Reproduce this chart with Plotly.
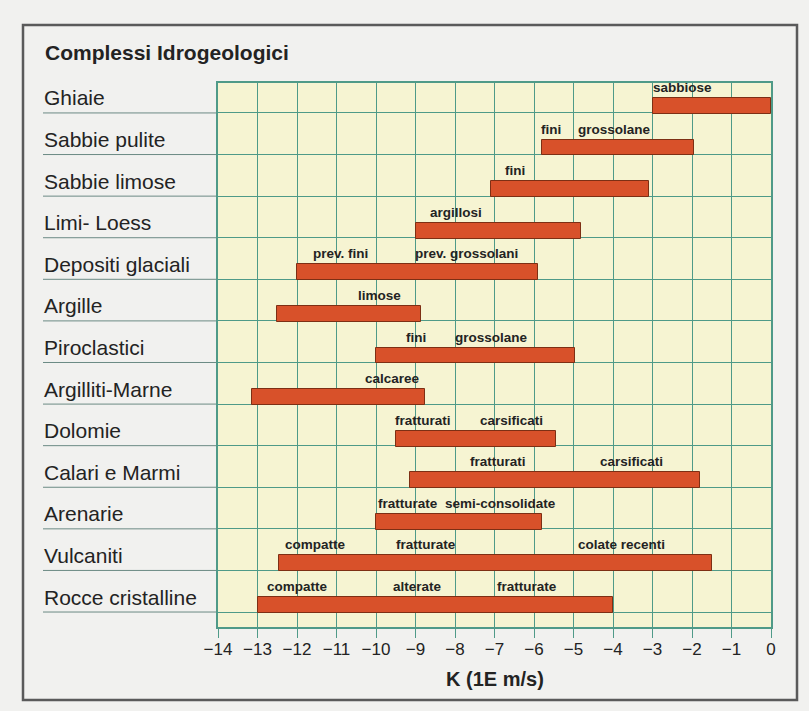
import plotly.graph_objects as go

# Hydrogeological complexes and their range of hydraulic conductivity (log10 K, m/s)
categories = ["Ghiaie", "Sabbie pulite", "Sabbie limose", "Limi- Loess",
              "Depositi glaciali", "Argille", "Piroclastici", "Argilliti-Marne",
              "Dolomie", "Calari e Marmi", "Arenarie", "Vulcaniti",
              "Rocce cristalline"]
k_min = [-3.0, -5.8, -7.1, -9.0, -12.0, -12.5, -10.0, -13.15, -9.5, -9.15,
         -10.0, -12.45, -13.0]
k_max = [0.0, -1.95, -3.1, -4.8, -5.9, -8.85, -4.95, -8.75, -5.45, -1.8,
         -5.8, -1.5, -4.0]

# Descriptive notes written above each bar
note_row = [0, 1, 1, 2, 3, 4, 4, 5, 6, 6, 7, 8, 8, 9, 9, 10, 10,
            11, 11, 11, 12, 12, 12]
note_k = [-2.25, -5.57, -3.95, -6.48, -7.98, -10.91, -7.72, -9.9, -9.0, -7.08,
          -9.58, -8.81, -6.56, -6.9, -3.53, -9.19, -6.84,
          -11.54, -8.73, -3.78, -11.98, -8.95, -6.19]
note_text = ["sabbiose", "fini", "grossolane", "fini", "argillosi",
             "prev. fini", "prev. grossolani", "limose", "fini", "grossolane",
             "calcaree", "fratturati", "carsificati", "fratturati", "carsificati",
             "fratturate", "semi-consolidate", "compatte", "fratturate",
             "colate recenti", "compatte", "alterate", "fratturate"]

x_ticks = list(range(-14, 1))
x_tick_text = [("\u2212" + str(-v)) if v < 0 else str(v) for v in x_ticks]

FONT = "Liberation Sans, Arial, Helvetica, sans-serif"
GRID = "#4f9a88"
BAR = "#d8512a"
BAR_EDGE = "#7d2f14"
TEXT = "#232323"

W, H = 809, 711
L, R, T, B = 218, 771, 83, 627          # plot area in pixels
BAR_H = 0.38

rows = list(range(len(categories)))

fig = go.Figure()
fig.add_trace(go.Bar(
    orientation="h",
    y=[r - BAR_H / 2 + 0.02 for r in rows],
    x=[hi - lo for lo, hi in zip(k_min, k_max)],
    base=k_min,
    width=BAR_H,
    marker=dict(color=BAR, line=dict(color=BAR_EDGE, width=1)),
    hoverinfo="skip",
    showlegend=False,
))

def px_x(p):
    return (p - L) / (R - L)

def px_y(p):
    return (B - p) / (B - T)

annotations = []
# category names on the left
for r, name in zip(rows, categories):
    annotations.append(dict(
        x=px_x(42), xref="paper", xanchor="left",
        y=r - 0.36, yref="y", yanchor="middle",
        text=name, showarrow=False,
        font=dict(family=FONT, size=21, color=TEXT)))
# notes over the bars
for r, k, t in zip(note_row, note_k, note_text):
    annotations.append(dict(
        x=k, xref="x", xanchor="center",
        y=r - 0.36, yref="y", yanchor="bottom", yshift=1,
        text="<b>" + t + "</b>", showarrow=False,
        font=dict(family=FONT, size=13.5, color=TEXT)))
# heading and axis title
annotations.append(dict(
    x=px_x(43), xref="paper", xanchor="left",
    y=px_y(53), yref="paper", yanchor="middle",
    text="<b>Complessi Idrogeologici</b>", showarrow=False,
    font=dict(family=FONT, size=21, color=TEXT)))
annotations.append(dict(
    x=0.5, xref="paper", xanchor="center",
    y=px_y(679), yref="paper", yanchor="middle",
    text="<b>K (1E m/s)</b>", showarrow=False,
    font=dict(family=FONT, size=20, color=TEXT)))

shapes = []
# row rules continuing under the category names
for r in rows:
    shapes.append(dict(
        type="line", xref="paper", yref="y",
        x0=px_x(43), x1=0, y0=r, y1=r,
        line=dict(color="#6b8a84", width=1), layer="below"))
# outer frame of the figure box
shapes.append(dict(
    type="rect", xref="paper", yref="paper",
    x0=px_x(23), x1=px_x(797), y0=px_y(700), y1=px_y(25),
    line=dict(color="#5a5a5a", width=2.5), layer="below"))

fig.update_layout(
    width=W, height=H,
    margin=dict(l=L, r=W - R, t=T, b=H - B, pad=0),
    paper_bgcolor="#f1f1ef",
    plot_bgcolor="#f6f4d2",
    bargap=0,
    annotations=annotations,
    shapes=shapes,
    xaxis=dict(
        range=[-14, 0], tickmode="array", tickvals=x_ticks, ticktext=x_tick_text,
        showgrid=True, gridcolor=GRID, gridwidth=1,
        ticks="outside", ticklen=9, tickcolor=GRID, tickwidth=1,
        ticklabelstandoff=-3,
        showline=True, linecolor=GRID, linewidth=1.5, mirror=True,
        zeroline=False,
        tickfont=dict(family=FONT, size=17, color=TEXT),
    ),
    yaxis=dict(
        range=[12.36, -0.72], tickmode="array", tickvals=rows,
        showticklabels=False, showgrid=True, gridcolor=GRID, gridwidth=1,
        showline=True, linecolor=GRID, linewidth=1.5, mirror=True,
        zeroline=False, ticks="",
    ),
)

fig.write_html("out.html")
